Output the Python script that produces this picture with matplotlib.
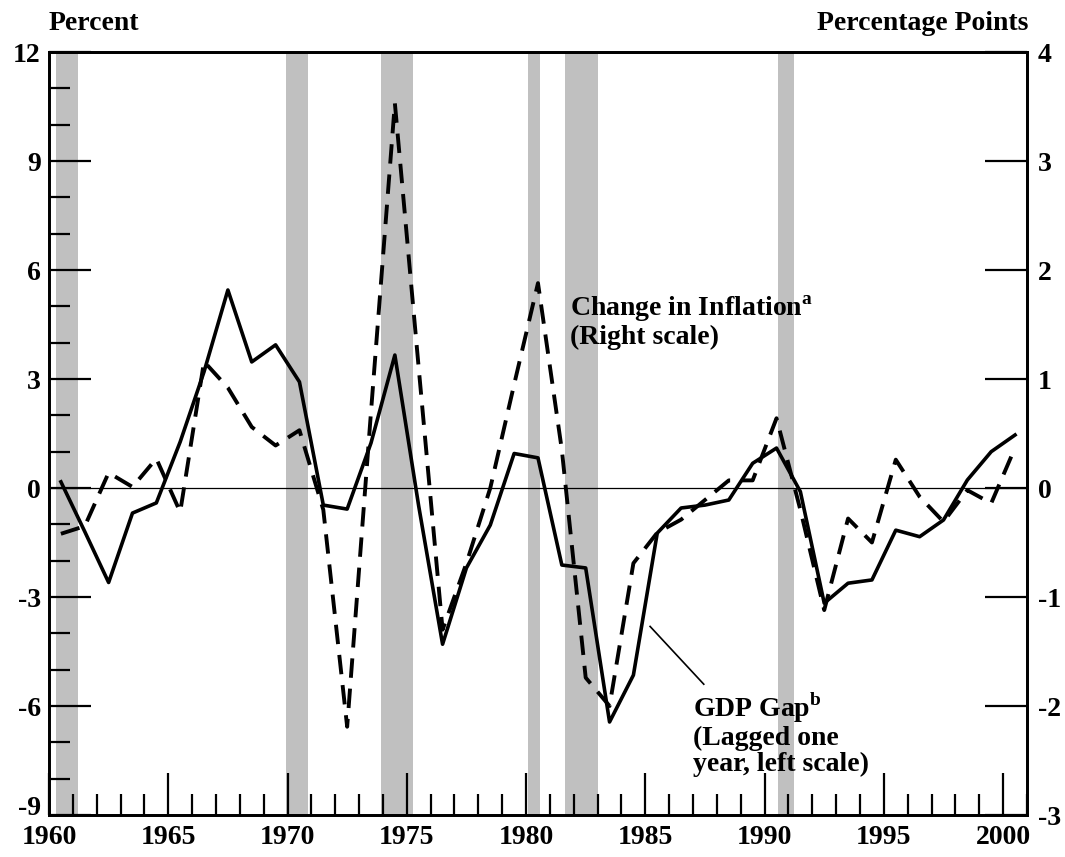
import matplotlib
matplotlib.use("Agg")
import matplotlib.pyplot as plt
from matplotlib.ticker import MultipleLocator, FixedLocator

# annual observations, plotted at mid-year
years = [1960.5 + i for i in range(41)]

# GDP gap, lagged one year (percent, left scale)
gdp_gap = [0.17, -1.2, -2.6, -0.69, -0.41, 1.27, 3.2, 5.45, 3.47, 3.94,
           2.92, -0.47, -0.58, 1.24, 3.66, -0.5, -4.3, -2.2, -1.02, 0.95,
           0.83, -2.12, -2.2, -6.44, -5.15, -1.24, -0.55, -0.47, -0.33, 0.68,
           1.1, -0.1, -3.17, -2.62, -2.53, -1.16, -1.34, -0.88, 0.22, 1.0,
           1.46]

# change in inflation (percentage points, right scale)
infl_change = [-0.42, -0.35, 0.14, 0.01, 0.27, -0.22, 1.16, 0.92, 0.56, 0.39,
               0.53, -0.2, -2.19, 0.7, 3.53, 1.1, -1.3, -0.69, 0.0, 0.95,
               1.88, 0.35, -1.74, -2.0, -0.69, -0.41, -0.29, -0.11, 0.07, 0.07,
               0.64, -0.2, -1.12, -0.28, -0.5, 0.26, -0.08, -0.31, -0.02, -0.14,
               0.37]

left_ticks = [-9, -6, -3, 0, 3, 6, 9, 12]
right_ticks = [-3, -2, -1, 0, 1, 2, 3, 4]

# recession periods
rec_start = [1960.3, 1969.95, 1973.9, 1980.1, 1981.65, 1990.55]
rec_end = [1961.2, 1970.85, 1975.25, 1980.6, 1983.0, 1991.25]

plt.rcParams['font.family'] = ['Liberation Serif', 'DejaVu Serif']
plt.rcParams['font.weight'] = 'bold'
plt.rcParams['mathtext.fontset'] = 'custom'
plt.rcParams['mathtext.rm'] = 'Liberation Serif:bold'
plt.rcParams['mathtext.bf'] = 'Liberation Serif:bold'

fig = plt.figure(figsize=(10.65, 8.57), dpi=100)
ax = fig.add_axes([0.046, 0.049, 0.9183, 0.8903])
ax2 = ax.twinx()

for s, e in zip(rec_start, rec_end):
    ax.axvspan(s, e, color='#c0c0c0', lw=0, zorder=0)

ax.axhline(0, color='black', lw=0.9, zorder=1)
ax.plot(years, gdp_gap, color='black', lw=2.6, zorder=3)
ax2.plot(years, infl_change, color='black', lw=2.8, dashes=(5, 2.8), zorder=3)

ax.set_xlim(1960, 2001)
ax.set_ylim(left_ticks[0], left_ticks[-1])
ax2.set_ylim(right_ticks[0], right_ticks[-1])

ax.xaxis.set_major_locator(MultipleLocator(5))
ax.xaxis.set_minor_locator(MultipleLocator(1))
ax.yaxis.set_major_locator(FixedLocator(left_ticks))
ax.yaxis.set_minor_locator(MultipleLocator(1))
ax2.yaxis.set_major_locator(FixedLocator(right_ticks))

ax.tick_params(axis='both', which='major', direction='in', length=30, width=1.6,
               labelsize=20, top=False, right=False)
ax.tick_params(axis='both', which='minor', direction='in', length=15, width=1.6,
               top=False, right=False)
ax.tick_params(axis='x', pad=7)
ax.tick_params(axis='y', pad=6)
ax2.tick_params(axis='y', which='major', direction='in', length=30, width=1.6,
                labelsize=20, pad=8)

for a in (ax, ax2):
    for sp in a.spines.values():
        sp.set_linewidth(2)

# lowest left label is drawn separately, a little higher, to clear "1960"
ax.set_yticklabels([""] + [str(v) for v in left_ticks[1:]])
ax.annotate(str(left_ticks[0]), xy=(0, left_ticks[0]),
            xycoords=('axes fraction', 'data'), xytext=(-6, 5),
            textcoords='offset points', ha='right', va='center',
            fontsize=20, fontweight='bold')
ax2.set_yticklabels([str(v) for v in right_ticks])

fig.text(0.046, 0.965, "Percent", fontsize=20, fontweight='bold', va='baseline')
fig.text(0.966, 0.965, "Percentage Points", fontsize=20, fontweight='bold',
         va='baseline', ha='right')

ax2.text(1981.85, 1.27, "Change in Inflation$^{\\mathbf{a}}$\n(Right scale)",
         fontsize=20, fontweight='bold', va='bottom', linespacing=1.0)
ax.text(1987.0, -7.95, "GDP Gap$^{\\mathbf{b}}$\n(Lagged one\nyear, left scale)",
        fontsize=20, fontweight='bold', va='bottom', linespacing=1.04)
ax.plot([1985.2, 1987.45], [-3.81, -5.4], color='black', lw=1.2)

fig.savefig("out.png", dpi=100)
